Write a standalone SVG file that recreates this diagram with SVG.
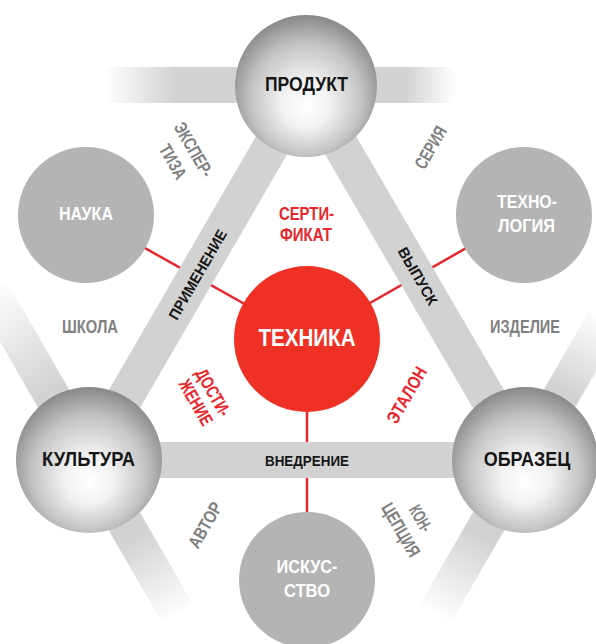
<svg xmlns="http://www.w3.org/2000/svg" width="596" height="644" viewBox="0 0 596 644">
<defs>
<style>
text{font-family:'Liberation Sans',Arial,sans-serif;font-weight:bold;text-anchor:middle}
.big{font-size:20px;fill:#161616}
.wh{font-size:18px;fill:#ffffff}
.gr{font-size:18px;fill:#808080}
.rd{font-size:18px;fill:#e8262b}
.bar{font-size:15px;fill:#161616}
.red-line{stroke:#e8262b;stroke-width:2.5;fill:none}
.main-bar{stroke:#d2d2d2;stroke-width:36;fill:none}
.node-gray{fill:#b4b4b4}
.sphere{fill:url(#sph)}
</style>
<radialGradient id="sph" cx="0.5" cy="0.56" r="0.56" fx="0.5" fy="0.66">
<stop offset="0" stop-color="#ffffff"/>
<stop offset="0.3" stop-color="#f2f2f2"/>
<stop offset="0.7" stop-color="#c3c3c3"/>
<stop offset="1" stop-color="#888888"/>
</radialGradient>
<linearGradient id="gH" gradientUnits="userSpaceOnUse" x1="105" y1="0" x2="455" y2="0">
<stop offset="0" stop-color="#d2d2d2" stop-opacity="0"/>
<stop offset="0.2" stop-color="#d2d2d2"/>
<stop offset="0.86" stop-color="#d2d2d2"/>
<stop offset="1" stop-color="#d2d2d2" stop-opacity="0"/>
</linearGradient>
<linearGradient id="gK" gradientUnits="userSpaceOnUse" x1="-200" y1="0" x2="180" y2="0">
<stop offset="0" stop-color="#d2d2d2" stop-opacity="0"/>
<stop offset="0.32" stop-color="#d2d2d2"/>
<stop offset="0.76" stop-color="#d2d2d2"/>
<stop offset="1" stop-color="#d2d2d2" stop-opacity="0"/>
</linearGradient>
<linearGradient id="gO" gradientUnits="userSpaceOnUse" x1="-180" y1="0" x2="165" y2="0">
<stop offset="0" stop-color="#d2d2d2" stop-opacity="0"/>
<stop offset="0.27" stop-color="#d2d2d2"/>
<stop offset="0.75" stop-color="#d2d2d2"/>
<stop offset="1" stop-color="#d2d2d2" stop-opacity="0"/>
</linearGradient>
</defs>
<rect width="596" height="644" fill="#ffffff"/>

<g id="connectors">
<line class="red-line" x1="86" y1="215" x2="307" y2="339"/>
<line class="red-line" x1="524" y1="215" x2="307" y2="339"/>
<line class="red-line" x1="307" y1="339" x2="307" y2="580"/>
<rect x="105" y="67" width="350" height="36" fill="url(#gH)"/>
<g transform="translate(89,460) rotate(60)"><rect x="-200" y="-18" width="380" height="36" fill="url(#gK)"/></g>
<g transform="translate(524,460) rotate(-60)"><rect x="-180" y="-18" width="345" height="36" fill="url(#gO)"/></g>
<line class="main-bar" x1="89" y1="460" x2="306" y2="86"/>
<line class="main-bar" x1="306" y1="86" x2="524" y2="460"/>
<line class="main-bar" x1="89" y1="460" x2="524" y2="460"/>
<text class="bar" transform="translate(197.5,274.5) rotate(-60)" y="5.4" textLength="101" lengthAdjust="spacingAndGlyphs">ПРИМЕНЕНИЕ</text>
<text class="bar" transform="translate(418,276) rotate(60)" y="5.4" textLength="64" lengthAdjust="spacingAndGlyphs">ВЫПУСК</text>
<text class="bar" x="307" y="466" textLength="84" lengthAdjust="spacingAndGlyphs">ВНЕДРЕНИЕ</text>
</g>

<g id="nauka">
<circle class="node-gray" cx="86" cy="215" r="68"/>
<text class="wh" x="86" y="220" textLength="54" lengthAdjust="spacingAndGlyphs">НАУКА</text>
</g>
<g id="tehnologiya">
<circle class="node-gray" cx="524" cy="215" r="68"/>
<text class="wh" x="527" y="208" textLength="60" lengthAdjust="spacingAndGlyphs">ТЕХНО-</text>
<text class="wh" x="526.5" y="232" textLength="57" lengthAdjust="spacingAndGlyphs">ЛОГИЯ</text>
</g>
<g id="iskusstvo">
<circle class="node-gray" cx="307" cy="580" r="68"/>
<text class="wh" x="307" y="573" textLength="61" lengthAdjust="spacingAndGlyphs">ИСКУС-</text>
<text class="wh" x="307" y="597" textLength="46" lengthAdjust="spacingAndGlyphs">СТВО</text>
</g>
<g id="tehnika">
<circle cx="307" cy="339" r="73" fill="#ee3124"/>
<text x="307" y="346" font-size="23" fill="#ffffff" textLength="97" lengthAdjust="spacingAndGlyphs">ТЕХНИКА</text>
</g>
<g id="produkt">
<circle class="sphere" cx="306" cy="86" r="71"/>
<text class="big" x="306.5" y="91" textLength="83" lengthAdjust="spacingAndGlyphs">ПРОДУКТ</text>
</g>
<g id="kultura">
<circle class="sphere" cx="89" cy="460" r="73"/>
<text class="big" x="88.5" y="466" textLength="93" lengthAdjust="spacingAndGlyphs">КУЛЬТУРА</text>
</g>
<g id="obrazec">
<circle class="sphere" cx="525" cy="460" r="73"/>
<text class="big" x="527" y="466" textLength="86.5" lengthAdjust="spacingAndGlyphs">ОБРАЗЕЦ</text>
</g>

<g id="labels">
<text class="gr" x="90" y="333" textLength="56" lengthAdjust="spacingAndGlyphs">ШКОЛА</text>
<text class="gr" x="525" y="333" textLength="70" lengthAdjust="spacingAndGlyphs">ИЗДЕЛИЕ</text>
<text class="gr" transform="translate(430.5,147.5) rotate(-60)" y="6.3" textLength="46" lengthAdjust="spacingAndGlyphs">СЕРИЯ</text>
<g transform="translate(183.5,155.5) rotate(60)">
<text class="gr" y="-5.5" textLength="60" lengthAdjust="spacingAndGlyphs">ЭКСПЕР-</text>
<text class="gr" y="18.5" textLength="37" lengthAdjust="spacingAndGlyphs">ТИЗА</text>
</g>
<text class="gr" transform="translate(205,525) rotate(-60)" y="6.3" textLength="50" lengthAdjust="spacingAndGlyphs">АВТОР</text>
<g transform="translate(411,524) rotate(60)">
<text class="gr" y="-5" textLength="28" lengthAdjust="spacingAndGlyphs">КОН-</text>
<text class="gr" y="18" textLength="59" lengthAdjust="spacingAndGlyphs">ЦЕПЦИЯ</text>
</g>
<text class="rd" x="306.5" y="220" textLength="55" lengthAdjust="spacingAndGlyphs">СЕРТИ-</text>
<text class="rd" x="306" y="241" textLength="52" lengthAdjust="spacingAndGlyphs">ФИКАТ</text>
<g transform="translate(204.75,397.25) rotate(60)">
<text class="rd" y="-3.5" textLength="52" lengthAdjust="spacingAndGlyphs">ДОСТИ-</text>
<text class="rd" y="16.5" textLength="50" lengthAdjust="spacingAndGlyphs">ЖЕНИЕ</text>
</g>
<text class="rd" transform="translate(406.5,395) rotate(-60)" y="6.3" textLength="62" lengthAdjust="spacingAndGlyphs">ЭТАЛОН</text>
</g>
</svg>
